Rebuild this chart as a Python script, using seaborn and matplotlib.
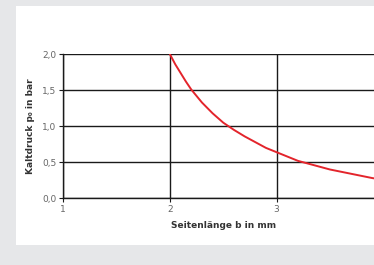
import matplotlib
matplotlib.use("Agg")
import matplotlib.pyplot as plt
from matplotlib.patches import Rectangle
import pandas as pd
import seaborn as sns

# curve
seitenlaenge = [2.0, 2.05, 2.1, 2.15, 2.2, 2.3, 2.4, 2.5, 2.6, 2.7, 2.8, 2.9,
                3.0, 3.1, 3.2, 3.3, 3.4, 3.5, 3.6, 3.7, 3.8, 3.9, 4.0]
kaltdruck = [2.00, 1.86, 1.74, 1.62, 1.51, 1.33, 1.18, 1.05, 0.95, 0.86, 0.78, 0.70,
             0.64, 0.58, 0.52, 0.48, 0.44, 0.40, 0.37, 0.34, 0.31, 0.28, 0.26]

x_ticks = [1, 2, 3]
x_labels = ['1', '2', '3']
y_ticks = [0.0, 0.5, 1.0, 1.5, 2.0]
y_labels = ['0,0', '0,5', '1,0', '1,5', '2,0']

df = pd.DataFrame({'b': seitenlaenge, 'p': kaltdruck})

sns.set_style('white')
plt.rcParams['font.family'] = ['DejaVu Sans']

fig = plt.figure(figsize=(3.74, 2.65), dpi=100, facecolor='#e6e7e9')
# white panel behind the chart
fig.patches.append(Rectangle((16 / 374, 20 / 265), 1.0, 239 / 265,
                             transform=fig.transFigure, facecolor='white',
                             edgecolor='none', zorder=-5))

ax = fig.add_axes([63.3 / 374, 66.7 / 265, 320 / 374, 144 / 265])
ax.set_facecolor('none')
ax.set_zorder(2)

sns.lineplot(data=df, x='b', y='p', ax=ax, color='#e3242b', linewidth=1.4, zorder=3)

ax.set_xlim(1, 4)
ax.set_ylim(0, 2)
ax.set_xticks(x_ticks)
ax.set_xticklabels(x_labels)
ax.set_yticks(y_ticks)
ax.set_yticklabels(y_labels)

ax.grid(True, color='#1a1a1a', linewidth=1.0)
for side in ['top', 'right']:
    ax.spines[side].set_visible(False)
for side in ['left', 'bottom']:
    ax.spines[side].set_color('#1a1a1a')
    ax.spines[side].set_linewidth(1.0)

ax.tick_params(axis='both', direction='out', length=3, width=0.8, color='#1a1a1a',
               labelsize=6.5, labelcolor='#666666', pad=2)
ax.tick_params(axis='both', left=True, bottom=True)

ax.set_xlabel('Seitenlänge b in mm', fontsize=6.5, fontweight='bold', color='#333333', labelpad=5)
ax.set_ylabel('Kaltdruck p₀ in bar', fontsize=6.5, fontweight='bold', color='#333333', labelpad=5)

fig.savefig('out.png', dpi=100, facecolor=fig.get_facecolor())
